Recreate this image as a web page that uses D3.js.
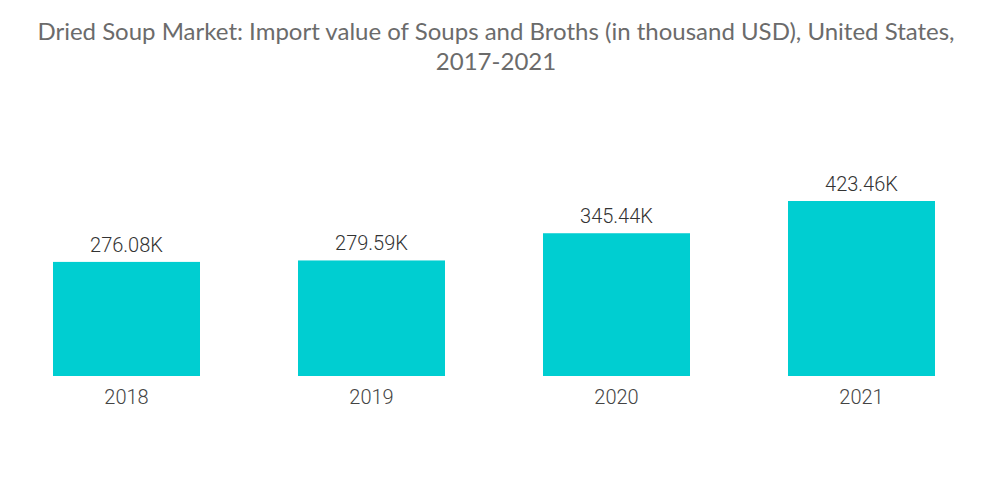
<!DOCTYPE html>
<html><head><meta charset="utf-8">
<script src="https://cdn.jsdelivr.net/npm/d3@7"></script>
<style>body{margin:0;background:#fff}svg{display:block}</style>
</head><body>
<svg id="c" width="1000" height="504"></svg>
<script>
const categories = ["2018","2019","2020","2021"];
const values = [276.08, 279.59, 345.44, 423.46];
const valueLabels = ["276.08K","279.59K","345.44K","423.46K"];
const titleLines = ["Dried Soup Market: Import value of Soups and Broths (in thousand USD), United States,","2017-2021"];

const svg = d3.select("#c");
svg.append("rect").attr("width",1000).attr("height",504).attr("fill","#fff");

const x = d3.scaleBand().domain(categories).range([4,984]).paddingInner(0.4).paddingOuter(0.2);
const y = d3.scaleLinear().domain([0, 423.46]).range([376, 201]);

svg.append("g").selectAll("text").data(titleLines).join("text")
  .attr("x", 496).attr("y",(d,i)=>40+i*30).attr("text-anchor","middle")
  .attr("font-family","Lato, 'Open Sans', sans-serif").attr("font-size",24).attr("fill","#6b6b6b")
  .text(d=>d);

svg.append("g").selectAll("rect").data(values).join("rect")
  .attr("x",(d,i)=>x(categories[i])).attr("width",x.bandwidth())
  .attr("y",d=>y(d)).attr("height",d=>y(0)-y(d)).attr("fill","#00CED1");

svg.append("g").selectAll("text").data(values).join("text")
  .attr("x",(d,i)=>x(categories[i])+x.bandwidth()/2).attr("y",d=>y(d)-10)
  .attr("text-anchor","middle").attr("font-family","Roboto, sans-serif").attr("font-weight",300)
  .attr("font-size",20).attr("fill","#333")
  .text((d,i)=>valueLabels[i]);

const xAxis = svg.append("g").attr("transform","translate(0,376)")
  .call(d3.axisBottom(x).tickSize(0).tickPadding(14));
xAxis.select(".domain").remove();
xAxis.selectAll("text").attr("font-family","Roboto, sans-serif").attr("font-weight",300)
  .attr("font-size",20).attr("fill","#444");
</script>
</body></html>
